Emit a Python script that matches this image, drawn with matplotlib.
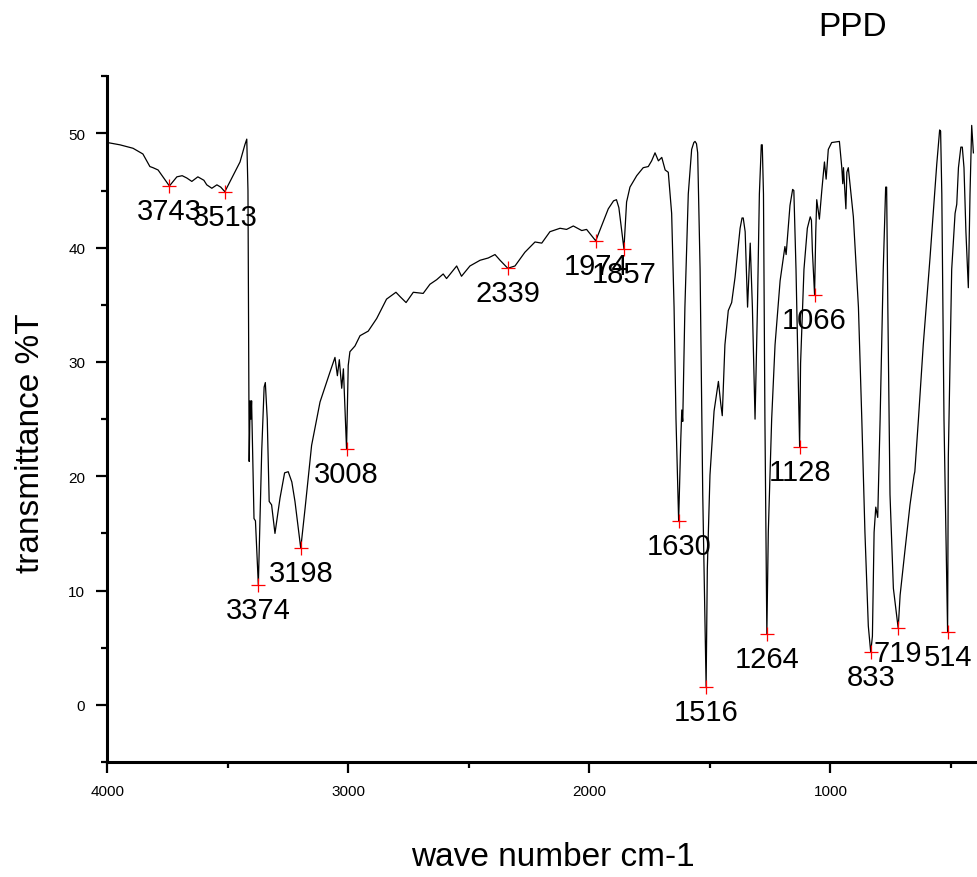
# PPD FTIR spectrum, transmittance vs wave number
import matplotlib.pyplot as plt
from matplotlib.ticker import MultipleLocator

plt.rcParams["font.family"] = ["Liberation Sans", "DejaVu Sans"]

# spectrum (cm-1, %T)
wavenumber = [
    4000, 3948, 3894, 3853, 3824, 3811, 3790, 3770, 3743, 3712, 3690, 3671,
    3650, 3625, 3600, 3588, 3567, 3546, 3530, 3513, 3479, 3450, 3430, 3422,
    3417, 3414, 3412, 3408, 3405, 3402, 3392, 3386, 3374, 3360, 3350, 3345,
    3337, 3329, 3319, 3305, 3284, 3265, 3250, 3235, 3222, 3198, 3180, 3153,
    3118, 3077, 3056, 3046, 3038, 3028, 3021, 3008, 3001, 2994, 2973, 2952,
    2918, 2883, 2842, 2803, 2785, 2761, 2731, 2690, 2662, 2634, 2607, 2593,
    2551, 2531, 2496, 2454, 2420, 2392, 2371, 2339, 2309, 2268, 2226, 2198,
    2164, 2122, 2095, 2067, 2032, 2012, 1974, 1950, 1922, 1900, 1888, 1878,
    1857, 1846, 1832, 1804, 1777, 1756, 1742, 1728, 1714, 1700, 1686, 1673,
    1659, 1649, 1641, 1630, 1621, 1617, 1613, 1604, 1590, 1576, 1567, 1562,
    1556, 1551, 1541, 1530, 1516, 1511, 1500, 1483, 1465, 1455, 1449, 1438,
    1424, 1410, 1396, 1375, 1367, 1362, 1354, 1344, 1333, 1324, 1313, 1303,
    1295, 1287, 1283, 1278, 1272, 1264, 1258, 1244, 1230, 1209, 1189, 1184,
    1168, 1157, 1152, 1143, 1128, 1124, 1110, 1096, 1084, 1079, 1075, 1066,
    1061, 1057, 1046, 1036, 1025, 1018, 1009, 995, 963, 953, 949, 946,
    936, 932, 926, 905, 884, 870, 857, 843, 833, 826, 819, 812,
    804, 794, 781, 771, 767, 762, 753, 739, 719, 711, 691, 670,
    653, 650, 635, 615, 587, 559, 547, 543, 538, 529, 514, 511,
    497, 483, 476, 469, 459, 453, 446, 438, 428, 421, 414, 407,
]
transmittance = [
    49.2, 49.0, 48.7, 48.2, 47.1, 47.0, 46.8, 46.2, 45.4, 46.2, 46.3, 46.1,
    45.8, 46.2, 45.9, 45.5, 45.2, 45.5, 45.3, 44.9, 46.3, 47.5, 49.0, 49.5,
    45.0, 30.0, 21.3, 26.6, 25.0, 26.6, 16.3, 16.1, 10.5, 22.2, 27.8, 28.2,
    25.0, 17.8, 17.5, 15.0, 18.1, 20.3, 20.4, 19.5, 17.8, 13.7, 17.2, 22.7,
    26.5, 29.1, 30.4, 28.8, 30.2, 27.7, 29.4, 22.4, 29.7, 30.9, 31.4, 32.3,
    32.7, 33.8, 35.5, 36.1, 35.7, 35.2, 36.1, 36.0, 36.8, 37.2, 37.7, 37.3,
    38.4, 37.5, 38.4, 38.9, 39.1, 39.4, 38.9, 38.2, 38.4, 39.6, 40.5, 40.4,
    41.4, 41.7, 41.6, 41.9, 41.5, 41.6, 40.6, 41.9, 43.4, 44.1, 44.2, 43.5,
    39.9, 44.0, 45.3, 46.3, 47.0, 47.1, 47.6, 48.3, 47.6, 47.9, 46.8, 46.6,
    43.0, 34.8, 25.0, 16.1, 23.3, 25.8, 24.8, 34.8, 44.7, 48.6, 49.2, 49.3,
    49.1, 48.3, 38.1, 18.4, 1.6, 11.9, 20.1, 25.7, 28.3, 26.3, 25.3, 31.5,
    34.5, 35.2, 37.4, 41.7, 42.6, 42.6, 41.4, 34.8, 40.4, 34.8, 25.0, 34.8,
    44.7, 49.0, 49.0, 44.7, 25.0, 6.2, 15.1, 25.0, 31.5, 37.1, 40.1, 39.4,
    43.7, 45.1, 45.0, 38.1, 22.6, 29.9, 38.1, 41.7, 42.7, 42.4, 39.7, 35.9,
    41.4, 44.2, 42.5, 45.0, 47.5, 46.0, 48.6, 49.2, 49.3, 47.0, 45.6, 47.0,
    43.4, 46.6, 47.0, 42.7, 34.8, 25.0, 15.1, 6.9, 4.6, 6.0, 15.1, 17.3,
    16.4, 25.0, 38.1, 45.3, 45.3, 34.8, 18.4, 10.2, 6.7, 9.6, 13.5, 17.5,
    20.1, 20.4, 25.0, 31.5, 39.1, 47.3, 50.3, 50.2, 44.7, 25.0, 6.4, 21.7,
    38.1, 43.0, 43.8, 47.0, 48.8, 48.8, 47.0, 41.4, 36.5, 44.7, 50.7, 48.3,
]

# labelled peaks
peak_wn = [3743, 3513, 3374, 3198, 3008, 2339, 1974, 1857, 1630, 1516,
           1264, 1128, 1066, 833, 719, 514]
peak_t = [45.4, 44.9, 10.5, 13.7, 22.4, 38.2, 40.6, 39.9, 16.1, 1.6,
          6.2, 22.6, 35.9, 4.6, 6.7, 6.4]

fig = plt.figure(figsize=(9.77, 8.78), dpi=100)
ax = fig.add_axes([0.110, 0.131, 0.890, 0.781])

ax.plot(wavenumber, transmittance, color="black", linewidth=0.9)
ax.plot(peak_wn, peak_t, linestyle="none", marker="+", color="red",
        markersize=10, markeredgewidth=0.9)

for w, t in zip(peak_wn, peak_t):
    ax.annotate(str(w), (w, t), xytext=(0, -18), textcoords="offset points",
                ha="center", va="center", fontsize=21)

ax.set_xlim(4000, 392)
ax.set_ylim(-5, 55)
ax.xaxis.set_major_locator(MultipleLocator(1000))
ax.xaxis.set_minor_locator(MultipleLocator(500))
ax.yaxis.set_major_locator(MultipleLocator(10))
ax.yaxis.set_minor_locator(MultipleLocator(5))

for sp in ["top", "right"]:
    ax.spines[sp].set_visible(False)
for sp in ["left", "bottom"]:
    ax.spines[sp].set_linewidth(2.2)
ax.tick_params(which="major", direction="out", length=8, width=1.6,
               labelsize=11, pad=8)
ax.tick_params(which="minor", direction="out", length=4.5, width=1.6)

ax.set_xlabel("wave number cm-1", fontsize=24)
ax.xaxis.set_label_coords(0.512, -0.1385)
ax.xaxis.label.set_verticalalignment("center")
ax.set_ylabel("transmittance %T", fontsize=24)
ax.yaxis.set_label_coords(-0.089, 0.466)
ax.yaxis.label.set_verticalalignment("center")

fig.text(853 / 977, 1 - 27 / 878, "PPD", ha="center", va="center", fontsize=24)

fig.savefig("out.png", dpi=100)
